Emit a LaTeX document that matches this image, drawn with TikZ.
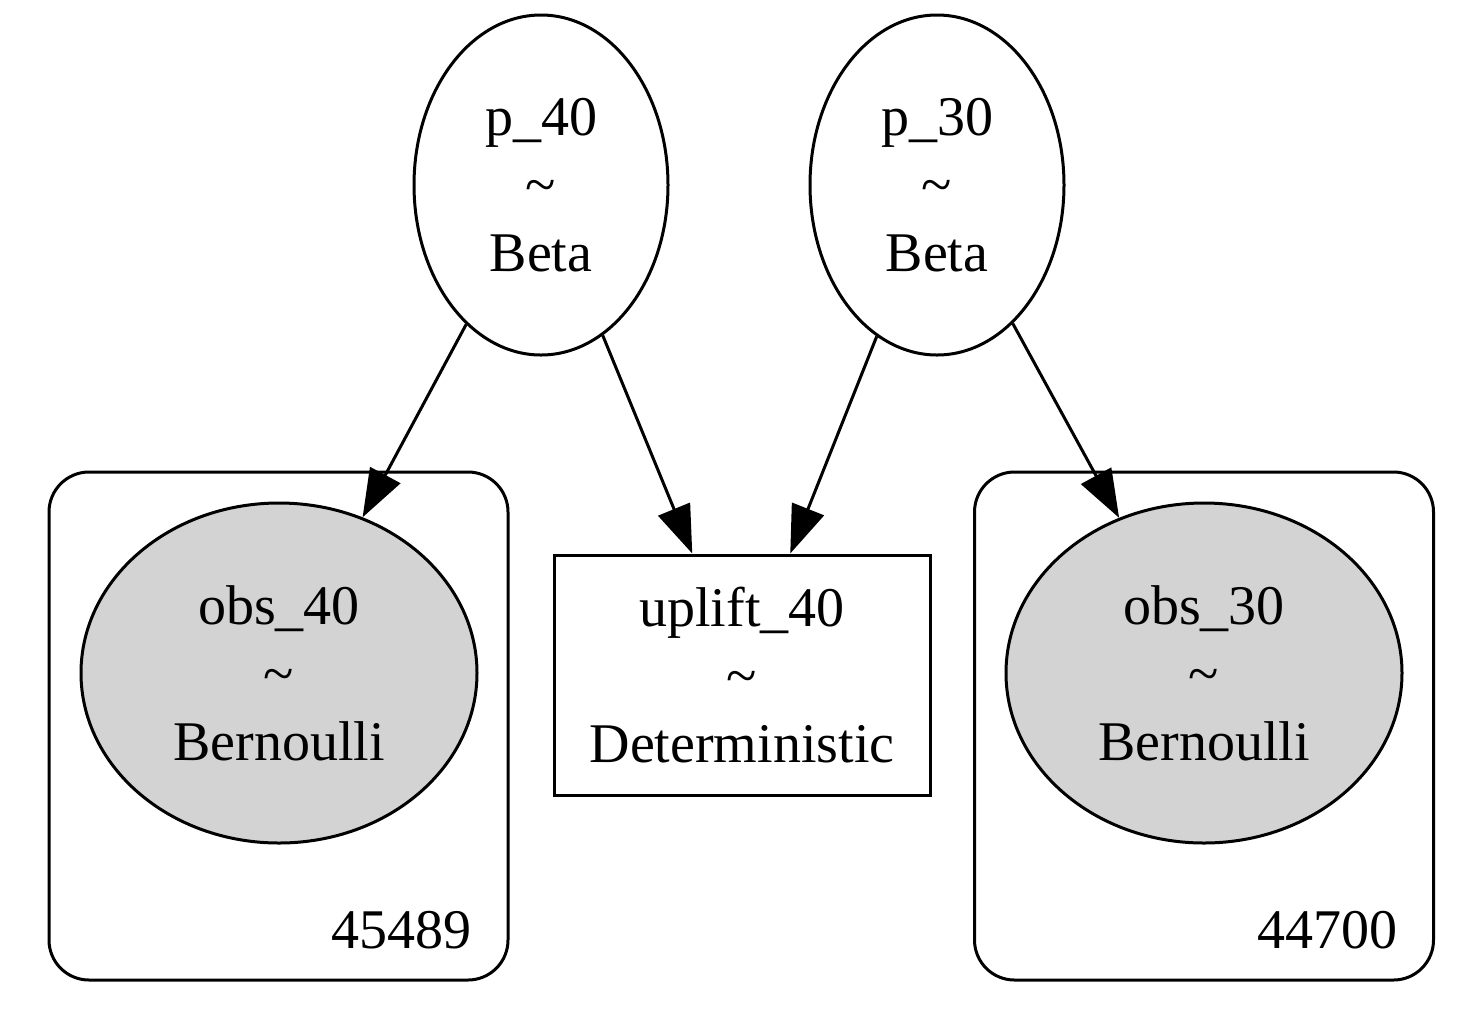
\documentclass[tikz,border=0pt]{standalone}
\usepackage{fontspec}
\setmainfont{Liberation Serif}
\usetikzlibrary{arrows.meta}
\usetikzlibrary{shapes}
\usetikzlibrary{positioning}
\definecolor{obsgray}{HTML}{D3D3D3}

\begin{document}
\begin{tikzpicture}[x=0.5pt,y=-0.5pt,
    every node/.style={font=\fontsize{28pt}{34pt}\selectfont,align=center,line width=1.5pt,inner sep=0pt},
    rv/.style={draw,ellipse,minimum width=127pt,minimum height=170pt},
    obs/.style={rv,fill=obsgray,minimum width=198pt},
    det/.style={draw,rectangle,minimum width=188pt,minimum height=120pt},
    plate/.style={draw,rectangle,rounded corners=20pt,minimum width=229.5pt,minimum height=254pt},
    edge/.style={-{Triangle[length=24pt,width=17pt]},line width=1.5pt}]
      \useasboundingbox (0,0) rectangle (1483,1030);

      \node[plate] (plate40) at (278.5,726) {};
      \node[plate] (plate30) at (1204 ,726) {};
      \node[anchor=base east] (n40) at (473 ,948) {45489};
      \node[anchor=base east] (n30) at (1399,948) {44700};

      \node[rv]  (p40)      at (541 ,185) {p\_40\\\textasciitilde\\Beta};
      \node[rv]  (p30)      at (937 ,185) {p\_30\\\textasciitilde\\Beta};
      \node[obs] (obs40)    at (279 ,673) {obs\_40\\\textasciitilde\\Bernoulli};
      \node[obs] (obs30)    at (1204,673) {obs\_30\\\textasciitilde\\Bernoulli};
      \node[det] (uplift40) at (742 ,675) {uplift\_40\\\textasciitilde\\Deterministic};

      \draw[edge] (p40) -- (obs40);
      \draw[edge] (p40) -- (uplift40);
      \draw[edge] (p30) -- (uplift40);
      \draw[edge] (p30) -- (obs30);
\end{tikzpicture}
\end{document}
